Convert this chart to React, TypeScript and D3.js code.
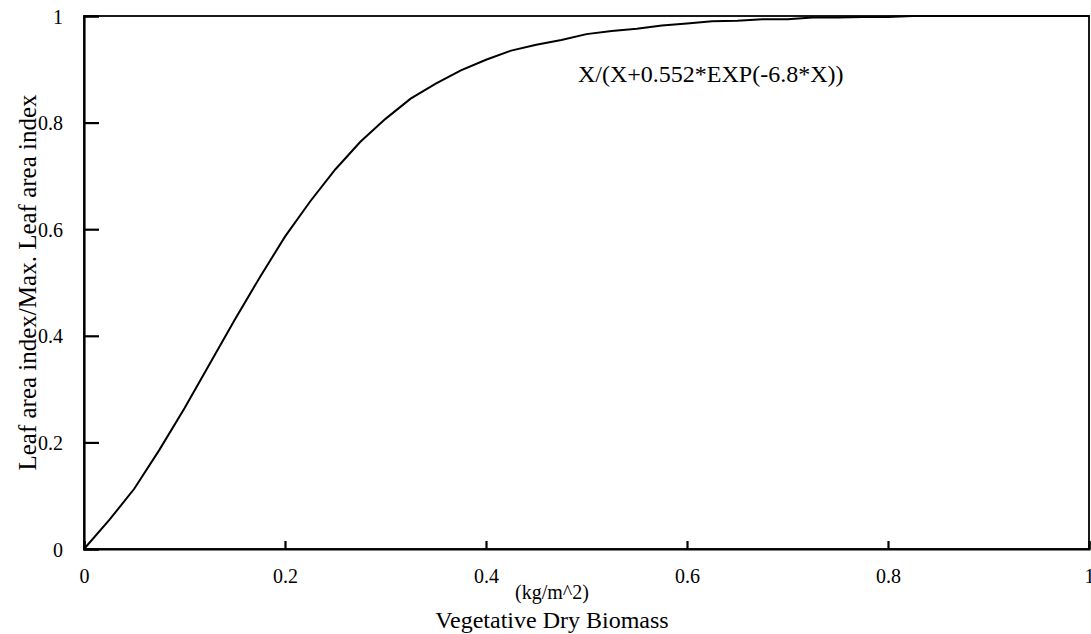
import React, { useEffect, useRef } from "react";
import * as d3 from "d3";

// biomass (kg/m^2) and relative leaf area index
const biomass = [
  0, 0.025, 0.05, 0.075, 0.1, 0.125, 0.15, 0.175, 0.2, 0.225, 0.25, 0.275, 0.3,
  0.325, 0.35, 0.375, 0.4, 0.425, 0.45, 0.475, 0.5, 0.525, 0.55, 0.575, 0.6,
  0.625, 0.65, 0.675, 0.7, 0.725, 0.75, 0.775, 0.8, 0.825, 0.85, 0.875, 0.9,
  0.925, 0.95, 0.975, 1,
];
const laiRatio = [
  0, 0.054, 0.113, 0.186, 0.264, 0.347, 0.43, 0.51, 0.586, 0.652, 0.712, 0.764,
  0.807, 0.845, 0.873, 0.898, 0.918, 0.935, 0.946, 0.955, 0.966, 0.972, 0.976,
  0.982, 0.986, 0.99, 0.991, 0.994, 0.994, 0.997, 0.997, 0.998, 0.998, 1, 1, 1,
  1, 1, 1, 1, 1,
];
const xTicks = [0, 0.2, 0.4, 0.6, 0.8, 1];
const yTicks = [0, 0.2, 0.4, 0.6, 0.8, 1];
const formulaLabel = "X/(X+0.552*EXP(-6.8*X))";

const W = 1091;
const H = 634;
const FONT = "'Liberation Serif', 'Times New Roman', serif";

export default function App() {
  const ref = useRef<SVGSVGElement>(null);

  useEffect(() => {
    const svg = d3.select(ref.current);
    svg.selectAll("*").remove();

    const margin = { top: 16, right: 2, bottom: 85, left: 84 };
    const x = d3.scaleLinear().domain([0, 1]).range([margin.left, W - margin.right]);
    const y = d3.scaleLinear().domain([0, 1]).range([H - margin.bottom, margin.top]);

    // frame
    svg
      .append("rect")
      .attr("x", x(0))
      .attr("y", y(1))
      .attr("width", x(1) - x(0))
      .attr("height", y(0) - y(1))
      .attr("fill", "none")
      .attr("stroke", "#000")
      .attr("stroke-width", 1.8);

    // bottom axis, ticks inward
    const xAxis = svg
      .append("g")
      .attr("transform", `translate(0,${y(0)})`)
      .call(d3.axisBottom(x).tickValues(xTicks).tickSize(-8).tickFormat(d3.format("~g")));
    xAxis.select(".domain").attr("stroke-width", 2.2);
    xAxis.selectAll(".tick line").attr("stroke-width", 2.2);
    xAxis
      .selectAll(".tick text")
      .attr("y", 34)
      .attr("dy", 0)
      .attr("font-size", 20)
      .attr("font-family", FONT)
      .attr("fill", "#000");

    // left axis
    const yAxis = svg
      .append("g")
      .attr("transform", `translate(${x(0)},0)`)
      .call(d3.axisLeft(y).tickValues(yTicks).tickSize(-15).tickFormat(d3.format("~g")));
    yAxis.select(".domain").attr("stroke-width", 2.2);
    yAxis.selectAll(".tick line").attr("stroke-width", 2.2);
    yAxis
      .selectAll(".tick text")
      .attr("x", -21)
      .attr("dy", "0.35em")
      .attr("font-size", 20)
      .attr("font-family", FONT)
      .attr("fill", "#000");

    // the curve
    const pts = biomass.map((b, i) => [b, laiRatio[i]] as [number, number]);
    const line = d3
      .line<[number, number]>()
      .x((d) => x(d[0]))
      .y((d) => y(d[1]));
    svg
      .append("path")
      .datum(pts)
      .attr("fill", "none")
      .attr("stroke", "#000")
      .attr("stroke-width", 2)
      .attr("d", line);

    // formula annotation
    svg
      .append("text")
      .attr("x", 578)
      .attr("y", 82)
      .attr("font-size", 24)
      .attr("font-family", FONT)
      .text(formulaLabel);

    // axis titles
    svg
      .append("text")
      .attr("x", 552)
      .attr("y", 599)
      .attr("text-anchor", "middle")
      .attr("font-size", 20)
      .attr("font-family", FONT)
      .text("(kg/m^2)");
    svg
      .append("text")
      .attr("x", 552)
      .attr("y", 628)
      .attr("text-anchor", "middle")
      .attr("font-size", 24)
      .attr("font-family", FONT)
      .text("Vegetative Dry Biomass");
    svg
      .append("text")
      .attr("transform", `translate(36,${(y(0) + y(1)) / 2}) rotate(-90)`)
      .attr("text-anchor", "middle")
      .attr("font-size", 25)
      .attr("font-family", FONT)
      .text("Leaf area index/Max. Leaf area index");
  }, []);

  return (
    <svg
      ref={ref}
      width={W}
      height={H}
      style={{ position: "absolute", left: 0, top: 0, background: "#fff" }}
    />
  );
}
